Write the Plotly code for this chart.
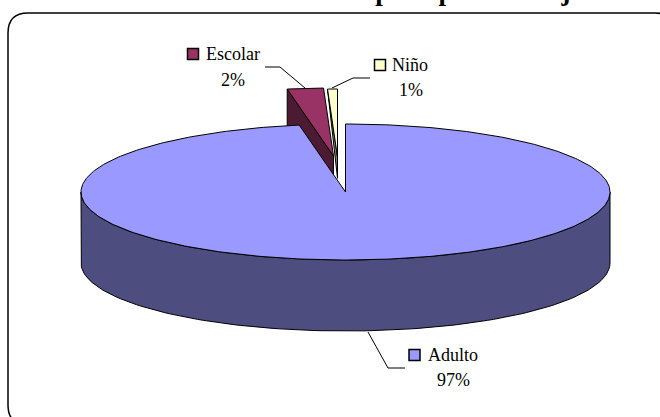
import numpy as np
import plotly.graph_objects as go

# Data
categories = ["Adulto", "Escolar", "Niño"]
shares = [97.2, 2.2, 0.6]
percent_labels = ["97%", "2%", "1%"]
title_text = "Distribución de recaudaciones por tipo de Pasajeros - S"

# Style / geometry
W, H = 660, 417
CX, CY, RX, RY, DEPTH = 345.5, 192.0, 264.5, 68.0, 71.0
top_colors = ["#9999FF", "#993366", "#FFFFCC"]
side_colors = ["#4D4D80", "#4D1A33", "#808066"]
explode = [(0, 0), (-12, -36), (-8, -35)]
FONT = "Liberation Serif"


def arc(a0, a1, ox, oy, dy=0.0, n=120):
    t = np.radians(np.linspace(a0, a1, n))
    return CX + ox + RX * np.sin(t), CY + oy + dy - RY * np.cos(t)


fig = go.Figure()


def poly(x, y, color):
    fig.add_trace(go.Scatter(x=list(x) + [x[0]], y=list(y) + [y[0]], mode="lines", fill="toself",
                             fillcolor=color, line=dict(color="black", width=1),
                             hoverinfo="skip", showlegend=False))


def draw_slice(i, a0, a1, full_wall=True):
    ox, oy = explode[i]
    ax, ay = CX + ox, CY + oy
    x1, y1 = arc(a0, a0, ox, oy, n=1)
    if full_wall:
        poly([x1[0], ax, ax, x1[0]], [y1[0], ay, ay + DEPTH, y1[0] + DEPTH], side_colors[i])
    else:
        # thin sliver: the wall narrows to the wedge tip
        poly([x1[0], ax, ax], [y1[0], ay, ay + 0.3 * DEPTH], side_colors[i])
    x, y = arc(a0, a1, ox, oy)
    poly(np.r_[ax, x], np.r_[ay, y], top_colors[i])


angles = np.cumsum([0] + shares) * 3.6
draw_slice(1, angles[1], angles[2])
draw_slice(2, angles[2], angles[3], full_wall=False)

# Adult slice: drawn last, so it hides the lower part of the exploded wedges
xt, yt = arc(90, 270, 0, 0)
xb, yb = arc(270, 90, 0, 0, DEPTH)
poly(np.r_[xt, xb], np.r_[yt, yb], side_colors[0])
x, y = arc(angles[0], angles[1], 0, 0, n=400)
poly(np.r_[CX, x], np.r_[CY, y], top_colors[0])

# Label positions: name text, percent text, key square, leader line
name_pos = [(453, 355), (233, 54), (410, 65)]
pct_pos = [(453, 380), (233, 80), (411, 90)]
key_pos = [(414.5, 355), (193, 54), (380, 65)]
leaders = [([368, 388, 405], [332, 368, 368]),
           ([305, 280, 265], [88, 67, 67]),
           ([332, 353, 370], [88, 78, 78])]

annotations = []
shapes = []
for i in range(3):
    fig.add_trace(go.Scatter(x=leaders[i][0], y=leaders[i][1], mode="lines",
                             line=dict(color="black", width=1), hoverinfo="skip", showlegend=False))
    kx, ky = key_pos[i]
    shapes.append(dict(type="rect", x0=kx - 5.5, x1=kx + 5.5, y0=ky - 5.5, y1=ky + 5.5,
                       fillcolor=top_colors[i], line=dict(color="black", width=1.5), layer="above"))
    annotations.append(dict(x=name_pos[i][0], y=name_pos[i][1], text=categories[i], showarrow=False,
                            font=dict(family=FONT, size=18, color="black"), xanchor="center", yanchor="middle"))
    annotations.append(dict(x=pct_pos[i][0], y=pct_pos[i][1], text=percent_labels[i], showarrow=False,
                            font=dict(family=FONT, size=18, color="black"), xanchor="center", yanchor="middle"))

# Title sits almost entirely above the picture: only its descenders show
annotations.append(dict(xref="paper", yref="paper", x=338 / W, y=1 + 9 / H, text="<b>%s</b>" % title_text,
                        showarrow=False, font=dict(family=FONT, size=27, color="black"),
                        xanchor="center", yanchor="middle"))

# Rounded outer frame (runs past the right and bottom edges of the picture)
L, R, T, B, r = 8, 675, 13, 425, 20
shapes.append(dict(type="path", layer="below", line=dict(color="black", width=1.5), fillcolor="white",
                   path=f"M {L+r} {T} L {R-r} {T} Q {R} {T} {R} {T+r} L {R} {B-r} Q {R} {B} {R-r} {B} "
                        f"L {L+r} {B} Q {L} {B} {L} {B-r} L {L} {T+r} Q {L} {T} {L+r} {T} Z"))

fig.update_layout(width=W, height=H, margin=dict(l=0, r=0, t=0, b=0), paper_bgcolor="white",
                  plot_bgcolor="white", showlegend=False, shapes=shapes, annotations=annotations,
                  xaxis=dict(range=[0, W], visible=False, fixedrange=True),
                  yaxis=dict(range=[H, 0], visible=False, fixedrange=True))
fig.write_html("out.html", config=dict(displayModeBar=False),
               post_script="document.body.style.margin='0';document.body.style.overflow='hidden';")
